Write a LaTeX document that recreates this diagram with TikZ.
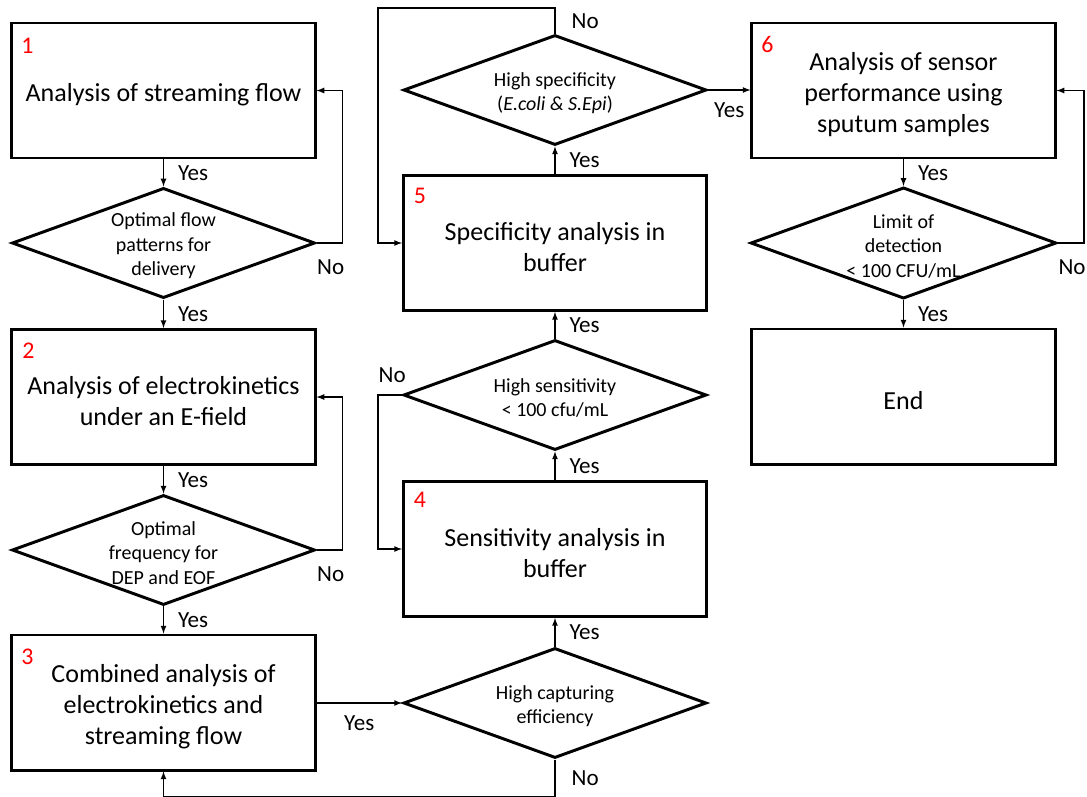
\documentclass[tikz,border=0pt]{standalone}
\usepackage{fontspec}
\setmainfont{Carlito}
\usepackage{tikz}
\usetikzlibrary{arrows,shapes.geometric}
\newcommand{\lift}{\rule{0pt}{1.0em}}

\begin{document}
\begin{tikzpicture}[x=0.025cm,y=-0.025cm]
		\tikzset{box/.style = {shape=rectangle, draw, line width=2.1pt, minimum width=7.575cm, minimum height=3.375cm, align=center, font=\fontsize{18.5}{22}\selectfont}}
		\tikzset{decision/.style = {shape=diamond, draw, line width=2.1pt, aspect=2.75, minimum width=7.575cm, minimum height=2.75cm, inner sep=0pt, align=center, font=\fontsize{14.2}{17.4}\selectfont}}
		\tikzset{num/.style = {text=red, inner sep=0pt, font=\fontsize{17}{20}\selectfont}}
		\tikzset{ans/.style = {inner sep=0pt, font=\fontsize{16.4}{19}\selectfont}}
		\tikzset{link/.style = {-latex, line width=0.9pt}}

		\useasboundingbox (0,0) rectangle (1087,797);

		\node[box] (B_1) at (163.5,90.5) {\lift Analysis of streaming flow};
		\node[decision] (D_1) at (163.5,243) {\lift Optimal flow\\patterns for\\delivery};
		\node[box] (B_2) at (163.5,397) {\lift Analysis of electrokinetics\\under an E-field};
		\node[decision] (D_2) at (163.5,550) {\lift Optimal\\frequency for\\DEP and EOF};
		\node[box] (B_3) at (163.5,702.5) {\lift Combined analysis of\\electrokinetics and\\streaming flow};

		\node[decision] (D_3) at (555,703) {\lift High capturing\\efficiency};
		\node[box] (B_4) at (555,549) {\lift Sensitivity analysis in\\buffer};
		\node[decision] (D_4) at (555,395) {\lift High sensitivity\\< 100 cfu/mL};
		\node[box] (B_5) at (555,243) {\lift Specificity analysis in\\buffer};
		\node[decision] (D_5) at (555,90) {\lift High specificity\\(\textit{E.coli \& S.Epi})};

		\node[box] (B_6) at (903.5,90.5) {\lift Analysis of sensor\\performance using\\sputum samples};
		\node[decision] (D_6) at (903.5,243) {\lift Limit of\\detection\\< 100 CFU/mL};
		\node[box] (B_7) at (903.5,396.5) {\lift End};

		\node[num] (N_1) at ([xshift=0.425cm,yshift=-0.6cm]B_1.north west) {1};
		\node[num] (N_2) at ([xshift=0.45cm,yshift=-0.575cm]B_2.north west) {2};
		\node[num] (N_3) at ([xshift=0.425cm,yshift=-0.575cm]B_3.north west) {3};
		\node[num] (N_4) at ([xshift=0.45cm,yshift=-0.5cm]B_4.north west) {4};
		\node[num] (N_5) at ([xshift=0.45cm,yshift=-0.55cm]B_5.north west) {5};
		\node[num] (N_6) at ([xshift=0.425cm,yshift=-0.575cm]B_6.north west) {6};

		\coordinate (C_4) at (378,395);
		\coordinate (C_5) at (378,8);

		\draw[link] (B_1) to node[ans, right, xshift=0.35cm] (Y_1) {Yes} (D_1);
		\draw[link] (D_1) to node[ans, right, xshift=0.35cm] (Y_2) {Yes} (B_2);
		\draw[link] (D_1.east) -- node[ans, at start, anchor=north west, yshift=-0.4cm] (O_1) {No} ++(26,0) |- (B_1.east);
		\draw[link] (B_2) to node[ans, right, xshift=0.35cm] (Y_3) {Yes} (D_2);
		\draw[link] (D_2) to node[ans, right, xshift=0.35cm] (Y_4) {Yes} (B_3);
		\draw[link] (D_2.east) -- node[ans, at start, anchor=north west, yshift=-0.4cm] (O_2) {No} ++(26,0) |- (B_2.east);
		\draw[link] (B_3.east |- D_3) to node[ans, below, yshift=-0.3cm] (Y_5) {Yes} (D_3.west);
		\draw[link] (D_3.south) -- node[ans, right, xshift=0.4cm] (O_3) {No} ++(0,37) -| (B_3.south);
		\draw[link] (D_3) to node[ans, right, xshift=0.35cm] (Y_6) {Yes} (B_4);
		\draw[link] (B_4) to node[ans, right, xshift=0.35cm] (Y_7) {Yes} (D_4);
		\draw[link] (D_4.west) -- node[ans, at end, anchor=south west, yshift=0.3cm] (O_4) {No} (C_4) |- (B_4.west);
		\draw[link] (D_4) to node[ans, right, xshift=0.35cm] (Y_8) {Yes} (B_5);
		\draw[link] (B_5) to node[ans, right, xshift=0.35cm] (Y_9) {Yes} (D_5);
		\draw[link] (D_5.north) -- node[ans, right, xshift=0.4cm] (O_5) {No} (D_5.north |- C_5) -- (C_5) |- (B_5.west);
		\draw[link] (D_5.east) to node[ans, below, yshift=-0.3cm] (Y_10) {Yes} (B_6.west |- D_5);
		\draw[link] (B_6) to node[ans, right, xshift=0.35cm] (Y_11) {Yes} (D_6);
		\draw[link] (D_6) to node[ans, right, xshift=0.35cm] (Y_12) {Yes} (B_7);
		\draw[link] (D_6.east) -- node[ans, at start, anchor=north west, yshift=-0.4cm] (O_6) {No} ++(26,0) |- (B_6.east);
	\end{tikzpicture}
\end{document}
